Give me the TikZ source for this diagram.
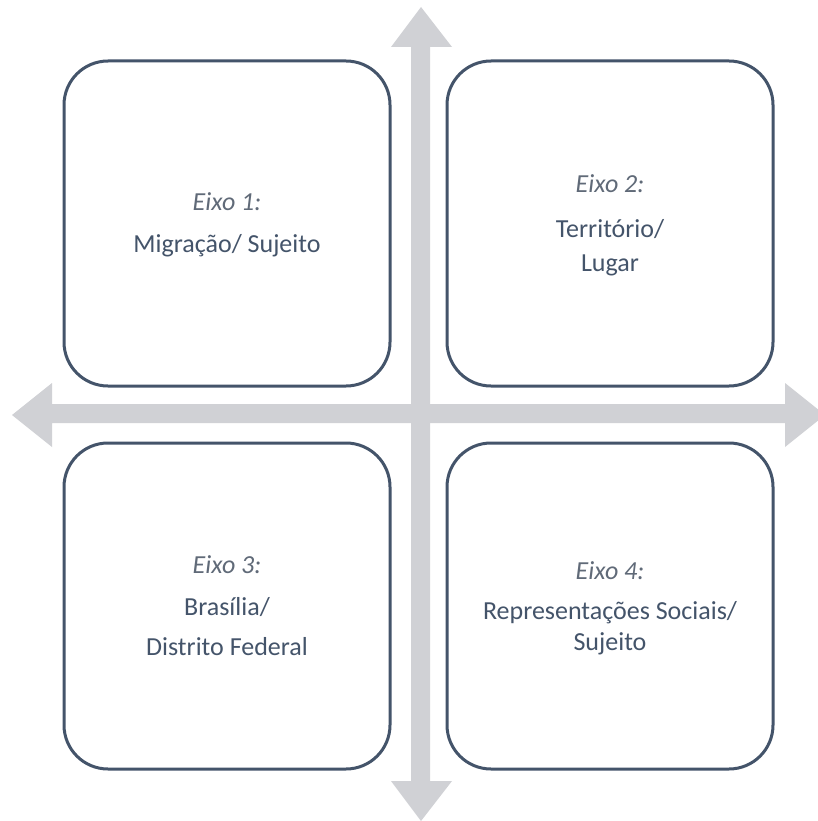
\documentclass[tikz,border=0pt]{standalone}
\usepackage{fontspec}
\setmainfont{Carlito}
\begin{document}
\begin{tikzpicture}[x=1pt,y=-1pt,
  axis/.style={fill=axisgray,draw=none},
  panel/.style={draw=panelblue,line width=3pt,rounded corners=44pt,fill=white},
  axislabel/.style={anchor=base,text=eixogray,font=\fontsize{26}{30}\selectfont\itshape},
  topic/.style={anchor=base,text=panelblue,font=\fontsize{26}{30}\selectfont}]
\definecolor{axisgray}{RGB}{208,209,213}
\definecolor{panelblue}{RGB}{68,84,106}
\definecolor{eixogray}{RGB}{96,106,120}
\useasboundingbox (0,0) rectangle (818,821);
\fill[white] (0,0) rectangle (818,821);

% the two crossing double arrows
\fill[axis] (411,47) -- (391,47) -- (421,7) -- (452,47) -- (430,47)
  -- (430,781) -- (452,781) -- (421,821) -- (391,781) -- (411,781) -- cycle;
\fill[axis] (52,404) -- (52,383) -- (12,415) -- (52,447) -- (52,423)
  -- (785,423) -- (785,447) -- (825,415) -- (785,383) -- (785,404) -- cycle;

% the four panels
\draw[panel] (64,61) rectangle (390,386);
\draw[panel] (447,61) rectangle (773,386);
\draw[panel] (64,443) rectangle (390,769);
\draw[panel] (447,443) rectangle (773,769);

% panel texts
\node[axislabel] (e1) at (227,210) {Eixo 1:};
\node[topic] (t1) at (227,252) {Migração/ Sujeito};

\node[axislabel] (e2) at (610,193) {Eixo 2:};
\node[topic] (t2a) at (610,237) {Território/};
\node[topic] (t2b) at (610,271) {Lugar};

\node[axislabel] (e3) at (227,573) {Eixo 3:};
\node[topic] (t3a) at (227,615) {Brasília/};
\node[topic] (t3b) at (227,655) {Distrito Federal};

\node[axislabel] (e4) at (610,579) {Eixo 4:};
\node[topic] (t4a) at (610,619) {Representações Sociais/};
\node[topic] (t4b) at (610,650) {Sujeito};
\end{tikzpicture}
\end{document}
